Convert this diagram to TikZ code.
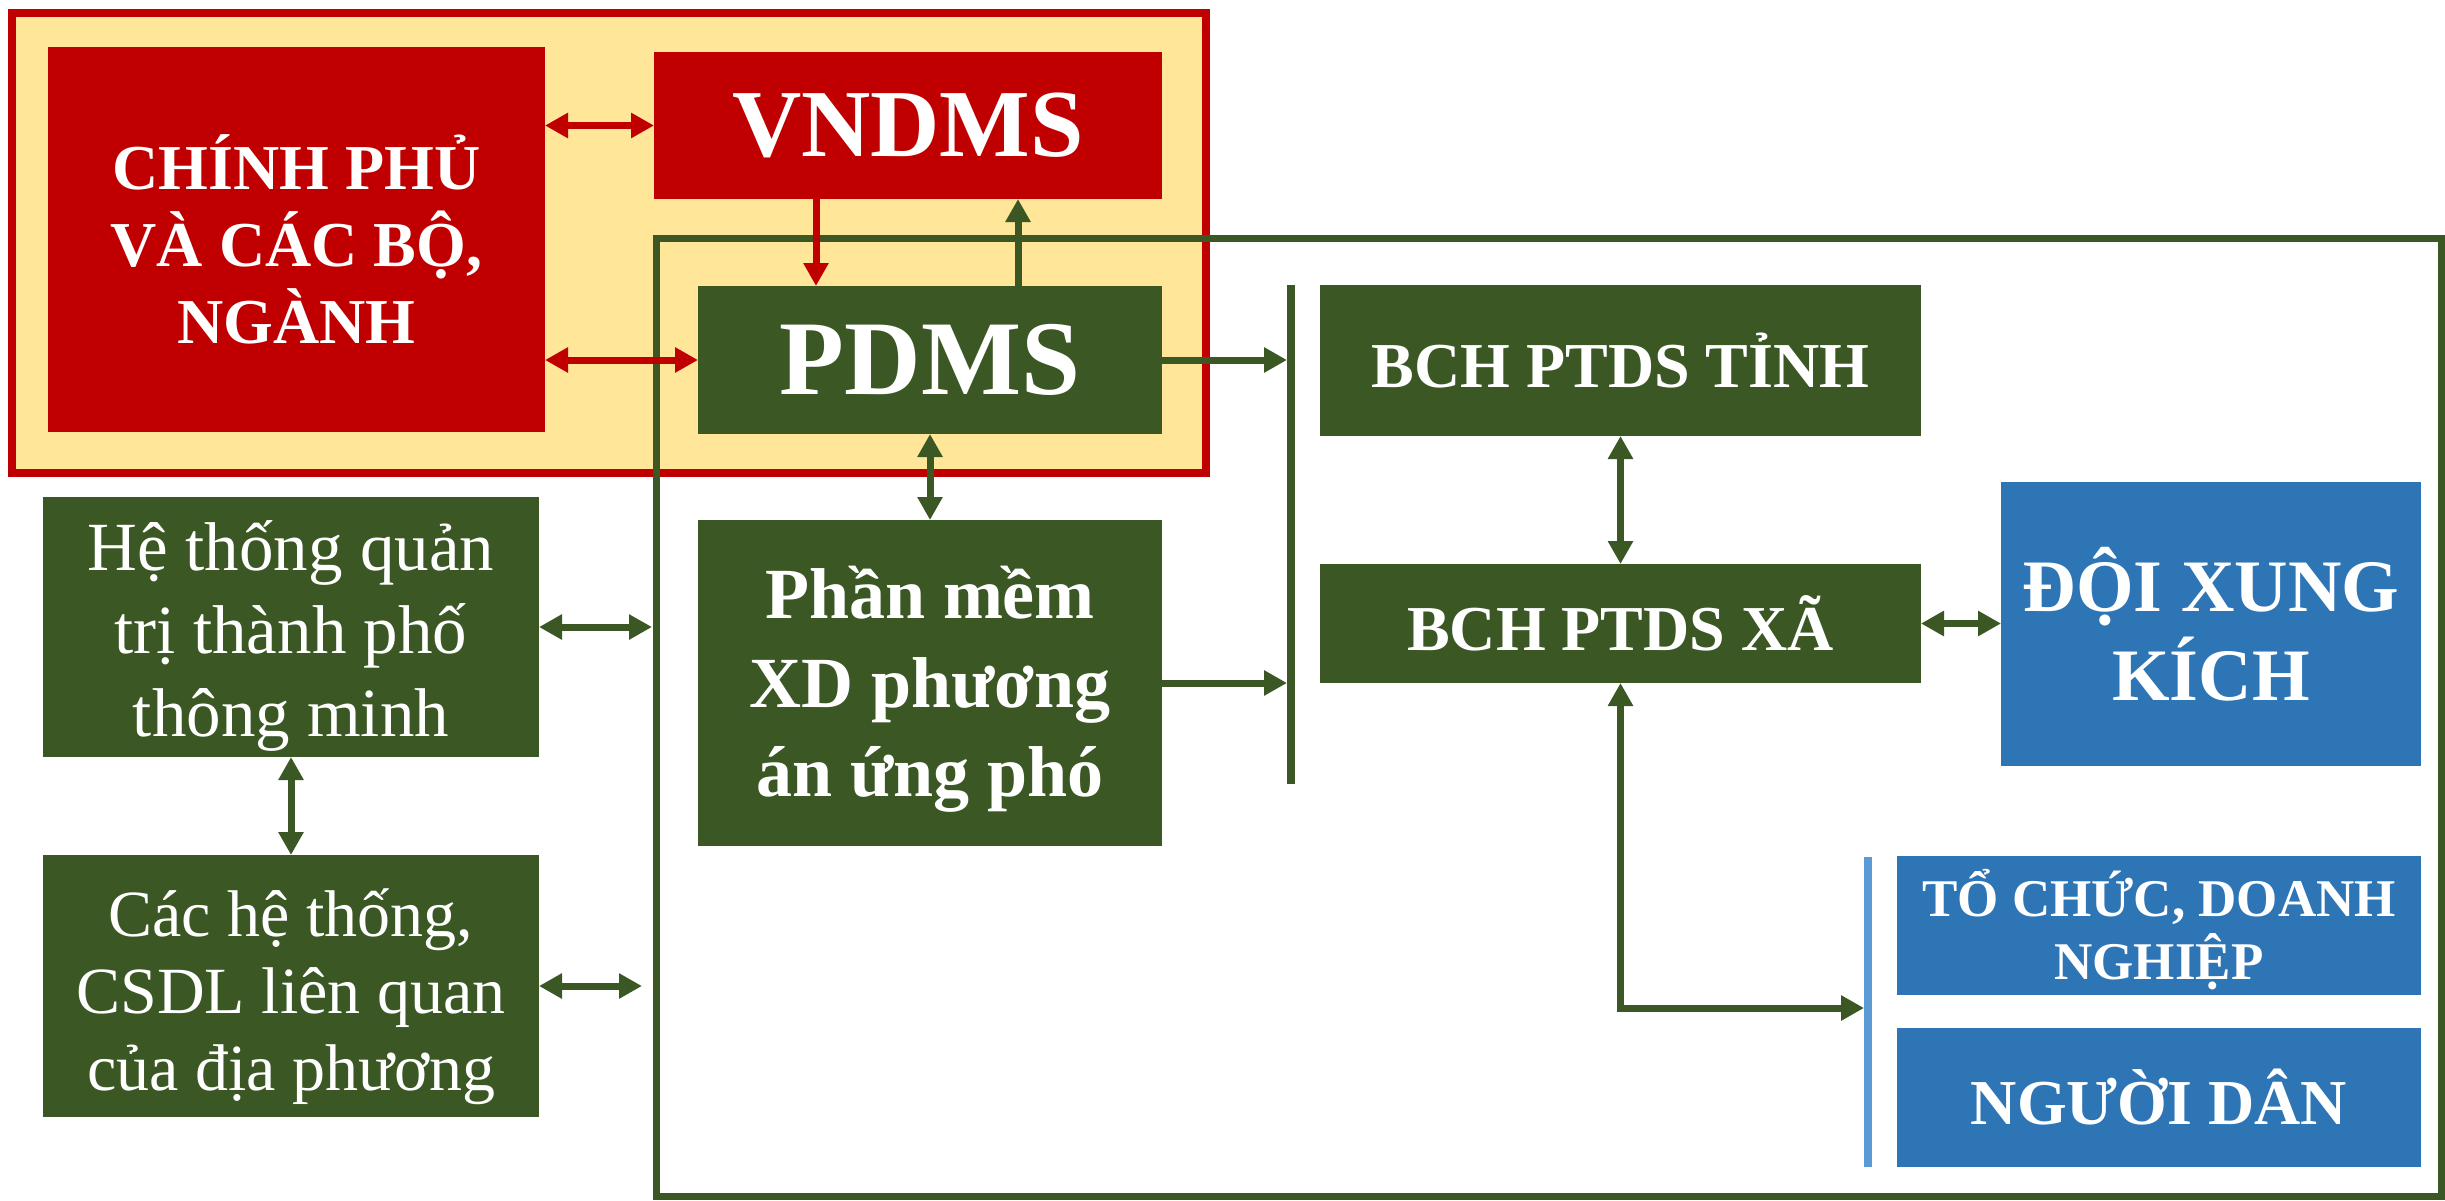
\documentclass[tikz,border=0pt]{standalone}
\usepackage{fontspec}
\setmainfont{Liberation Serif}
\usetikzlibrary{arrows.meta}
\definecolor{dred}{HTML}{C00000}
\definecolor{dgreen}{HTML}{3A5724}
\definecolor{mblue}{HTML}{2E75B6}
\definecolor{lblue}{HTML}{5B9BD5}
\definecolor{lyellow}{HTML}{FFE699}
\begin{document}
\begin{tikzpicture}[x=0.5pt,y=-0.5pt,
  >={Triangle[length=11.5pt,width=12pt]},
  box/.style={inner sep=0pt, outer sep=0pt, text=white, align=center},
  txt/.style={inner sep=0pt, outer sep=0pt, text=white, align=center},
  redbox/.style={box, fill=dred},
  greenbox/.style={box, fill=dgreen},
  bluebox/.style={box, fill=mblue},
  garr/.style={draw=dgreen, line width=3.5pt},
  rarr/.style={draw=dred, line width=3.5pt},
  fbig/.style={font=\fontsize{32}{38.5}\selectfont\bfseries},
]
\useasboundingbox (0,0) rectangle (2445,1200);
% yellow zone with red border
\node[draw=dred, fill=lyellow, line width=4pt, inner sep=0pt, outer sep=0pt,
      minimum width=597pt, minimum height=230pt] (zone) at (609,243) {};
% big green frame
\node[draw=dgreen, line width=3.5pt, inner sep=0pt, outer sep=0pt,
      minimum width=892.5pt, minimum height=479pt] (frame) at (1548.5,717.5) {};

% boxes
\node[redbox, minimum width=248.5pt, minimum height=192.5pt, fbig] (chinh) at (296.5,239.5)
  {CHÍNH PHỦ\\VÀ CÁC BỘ,\\NGÀNH};
\node[redbox, minimum width=254pt, minimum height=73.5pt,
      font=\fontsize{48}{56}\selectfont\bfseries] (vndms) at (908,125.5) {VNDMS};
\node[greenbox, minimum width=232pt, minimum height=74pt,
      font=\fontsize{53}{60}\selectfont\bfseries] (pdms) at (930,360) {PDMS};
\node[greenbox, minimum width=248pt, minimum height=130pt] (heth) at (291,627) {};
\node[txt, font=\fontsize{34.5}{41.5}\selectfont] (hethT) at ([yshift=-4.5pt]heth.center)
  {Hệ thống quản\\trị thành phố\\thông minh};
\node[greenbox, minimum width=248pt, minimum height=131pt] (cac) at (291,986) {};
\node[txt, font=\fontsize{33}{38.5}\selectfont] (cacT) at ([yshift=-5.5pt]cac.center)
  {Các hệ thống,\\CSDL liên quan\\của địa phương};
\node[greenbox, minimum width=232pt, minimum height=163pt] (phanmem) at (930,683) {};
\node[txt, font=\fontsize{36}{44.5}\selectfont\bfseries] (phanmemT) at ([yshift=-3pt]phanmem.center)
  {Phần mềm\\XD phương\\án ứng phó};
\node[greenbox, minimum width=300.5pt, minimum height=75.5pt, fbig] (tinh) at (1620.5,360.5)
  {BCH PTDS TỈNH};
\node[greenbox, minimum width=300.5pt, minimum height=59.5pt, fbig] (xa) at (1620.5,623.5)
  {BCH PTDS XÃ};
\node[bluebox, minimum width=210pt, minimum height=142pt,
      font=\fontsize{37}{44.5}\selectfont\bfseries] (doi) at (2211,624)
  {ĐỘI XUNG\\KÍCH};
\node[bluebox, minimum width=262pt, minimum height=69.5pt] (tochuc) at (2159,925.5) {};
\node[txt, font=\fontsize{26.5}{31.5}\selectfont\bfseries] (tochucT) at ([yshift=-2pt]tochuc.center)
  {TỔ CHỨC, DOANH\\NGHIỆP};
\node[bluebox, minimum width=262pt, minimum height=69.5pt,
      font=\fontsize{32}{38}\selectfont\bfseries] (nguoi) at (2159,1097.5)
  {NGƯỜI DÂN};
% bars
\node[fill=dgreen, inner sep=0pt, outer sep=0pt, minimum width=4pt, minimum height=249.5pt]
  (bar) at (1291,534.5) {};
\node[fill=lblue, inner sep=0pt, outer sep=0pt, minimum width=4pt, minimum height=155pt]
  (bbar) at (1867.5,1012) {};

% free ends on the frame
\coordinate (fe1) at (652,627);
\coordinate (fe2) at (642,986);
\coordinate (bbend) at (1864,1008);

% red connectors
\draw[rarr, <->] (chinh.east |- vndms.west) -- (vndms.west);
\draw[rarr, <->] (chinh.east |- pdms.west) -- (pdms.west);
\draw[rarr, ->] (vndms.south -| 816,0) -- (pdms.north -| 816,0);
% green connectors
\draw[garr, ->] (pdms.north -| 1018,0) -- (vndms.south -| 1018,0);
\draw[garr, <->] (pdms.south) -- (phanmem.north);
\draw[garr, ->] (pdms.east) -- (bar.west |- pdms.east);
\draw[garr, ->] (phanmem.east) -- (bar.west |- phanmem.east);
\draw[garr, <->] (tinh.south) -- (xa.north);
\draw[garr, <->] (xa.east) -- (doi.west |- xa.east);
\draw[garr, <->] (xa.south) |- (bbend);
\draw[garr, <->] (heth.east) -- (fe1);
\draw[garr, <->] (heth.south) -- (cac.north);
\draw[garr, <->] (cac.east) -- (fe2);
\end{tikzpicture}
\end{document}
